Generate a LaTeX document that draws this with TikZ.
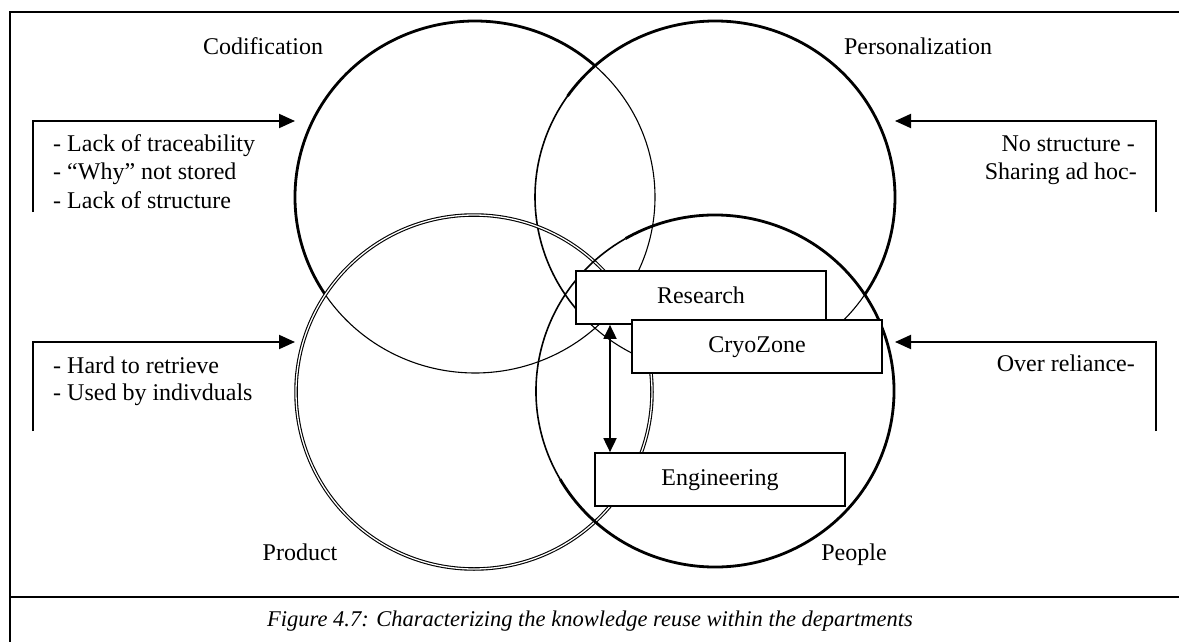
\documentclass[tikz,border=0pt]{standalone}
\usepackage{fontspec}
\setmainfont{Liberation Serif}
\usetikzlibrary{arrows.meta}
\begin{document}
\begin{tikzpicture}[x=1pt,y=-1pt,
  txt/.style={inner sep=0pt, text height=17pt, text depth=5pt, font=\fontsize{24}{28}\selectfont},
  dept/.style={txt, draw, line width=1.7pt, fill=white, minimum width=250pt, minimum height=53pt},
  feed/.style={line width=1.9pt, -{Triangle[length=16pt,width=14pt]}},
  link/.style={line width=1.8pt, {Triangle[length=14pt,width=13pt]}-{Triangle[length=14pt,width=13pt]}},
  framing/.style={line width=1.5pt},
  heavy/.style={line width=2.8pt},
  light/.style={line width=1.1pt},
  medium/.style={line width=1.6pt},
  doubled/.style={line width=1.1pt, double, double distance=1.3pt}]
\useasboundingbox (0,0) rectangle (1179,642);

% outer frame and caption separator
\draw[framing] (10,642) -- (10,12) -- (1179,12);
\draw[framing] (10,597) -- (1179,597);

% Codification circle (upper left)
\draw[heavy] (475,197) ++(146:180 and 176) arc[start angle=146, end angle=312, x radius=180, y radius=176];
\draw[light] (475,197) ++(312:180 and 176) arc[start angle=312, end angle=506, x radius=180, y radius=176];

% Personalization circle (upper right)
\draw[heavy] (715,197) ++(215:180 and 176) arc[start angle=215, end angle=394, x radius=180, y radius=176];
\draw[light] (715,197) ++(34:180 and 176) arc[start angle=34, end angle=140, x radius=180, y radius=176];
\draw[medium] (715,197) ++(140:180 and 176) arc[start angle=140, end angle=215, x radius=180, y radius=176];

% Product circle (lower left)
\draw[doubled] (474,392) ellipse[x radius=178, y radius=177];

% People circle (lower right)
\draw[heavy] (715,391) ++(240:179 and 176) arc[start angle=240, end angle=510, x radius=179, y radius=176];
\draw[medium] (715,391) ++(150:179 and 176) arc[start angle=150, end angle=240, x radius=179, y radius=176];

% circle labels
\node[txt] (codif) at (263,49) {Codification};
\node[txt] (perso) at (918,49) {Personalization};
\node[txt] (prod) at (300,554) {Product};
\node[txt] (peop) at (854,554) {People};

% departments
\node[dept] (research) at (701,297.5) {Research};
\node[dept] (cryo) at (757,346.5) {CryoZone};
\node[dept] (eng) at (720,479.5) {Engineering};
\coordinate (ax) at (610,0);
\draw[link] (research.south -| ax) -- (eng.north -| ax);

% issues feeding the codification circle
\coordinate (codfoot) at (33,212);
\coordinate (codin) at (295,121);
\draw[feed] (codfoot) |- (codin);
\node[txt, anchor=west] (c1) at (53,145) {- Lack of traceability};
\node[txt, anchor=west] (c2) at (53,173.5) {- “Why” not stored};
\node[txt, anchor=west] (c3) at (53,202) {- Lack of structure};

% issues feeding the product circle
\coordinate (prfoot) at (33,431);
\coordinate (prin) at (295,342);
\draw[feed] (prfoot) |- (prin);
\node[txt, anchor=west] (p1) at (53,367) {- Hard to retrieve};
\node[txt, anchor=west] (p2) at (53,394) {- Used by indivduals};

% issues feeding the personalization circle
\coordinate (psfoot) at (1156,212);
\coordinate (psin) at (895,121);
\draw[feed] (psfoot) |- (psin);
\node[txt, anchor=east] (s1) at (1135,145) {No structure -};
\node[txt, anchor=east] (s2) at (1137,173.5) {Sharing ad hoc-};

% issues feeding the people circle
\coordinate (pefoot) at (1156,431);
\coordinate (pein) at (895,342);
\draw[feed] (pefoot) |- (pein);
\node[txt, anchor=east] (o1) at (1135,365) {Over reliance-};

% caption
\node[txt, font=\fontsize{22.5}{27}\selectfont\itshape] (cap) at (590,620)
  {Figure 4.7: Characterizing the knowledge reuse within the departments};
\end{tikzpicture}
\end{document}
